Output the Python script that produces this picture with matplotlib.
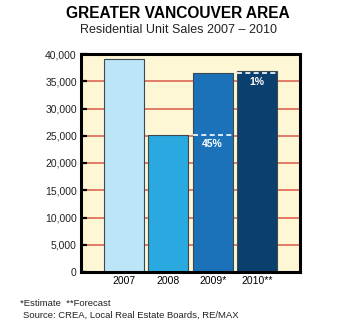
import matplotlib.pyplot as plt

# residential unit sales, greater vancouver
years = ['2007', '2008', '2009*', '2010**']
sales = [39000, 25050, 36500, 36900]
colors = ['#bde5f8', '#29a9e0', '#1c72b8', '#0b3f6d']

# percentage changes shown on the bars: (bar index, previous bar index, label)
changes = [(2, 1, '45%'), (3, 2, '1%')]

yticks = list(range(0, 40001, 5000))

plt.rcParams['font.family'] = ['Liberation Sans', 'DejaVu Sans']

fig = plt.figure(figsize=(3.5, 3.3), dpi=100)
ax = fig.add_axes([81 / 350, (330 - 272) / 330, 219 / 350, 218 / 330])
ax.set_facecolor('#fdf7d6')

# red gridlines behind the bars
for y in yticks[1:-1]:
    ax.axhline(y, color='#e0735f', linewidth=1.3, zorder=1)

x = range(len(years))
ax.bar(x, sales, width=0.9, color=colors, edgecolor='#3a4a50',
       linewidth=0.8, zorder=2)

# dashed lines marking the previous year's level, with the change
for i, j, label in changes:
    ax.plot([i - 0.45, i + 0.45], [sales[j], sales[j]], color='white',
            linestyle=(0, (3, 2)), linewidth=1.2, zorder=3)
    ax.text(i, sales[j] - 700, label, color='white', fontsize=7.5,
            fontweight='bold', ha='center', va='top', zorder=4)

ax.set_xlim(-0.97, 3.97)
ax.set_ylim(0, 40000)
ax.set_xticks(list(x))
ax.set_xticklabels(years, fontsize=7.5)
ax.set_yticks(yticks)
ax.set_yticklabels([f'{v:,}' for v in yticks], fontsize=7.5, color='#222222')
ax.tick_params(axis='y', direction='in', length=4, width=1.6, pad=3)
ax.tick_params(axis='x', length=0, pad=3)
for s in ax.spines.values():
    s.set_linewidth(2.2)
    s.set_color('black')

fig.text(178 / 350, 1 - 14 / 330, 'GREATER VANCOUVER AREA', fontsize=11.2,
         fontweight='bold', ha='center', va='center')
fig.text(178 / 350, 1 - 30 / 330, 'Residential Unit Sales 2007 \u2013 2010',
         fontsize=9, ha='center', va='center', color='#222222')
fig.text(20 / 350, 1 - 303 / 330, '*Estimate  **Forecast', fontsize=6.8,
         ha='left', va='center', color='#222222')
fig.text(23 / 350, 1 - 315 / 330, 'Source: CREA, Local Real Estate Boards, RE/MAX',
         fontsize=6.8, ha='left', va='center', color='#222222')

fig.savefig('out.png', dpi=100)
